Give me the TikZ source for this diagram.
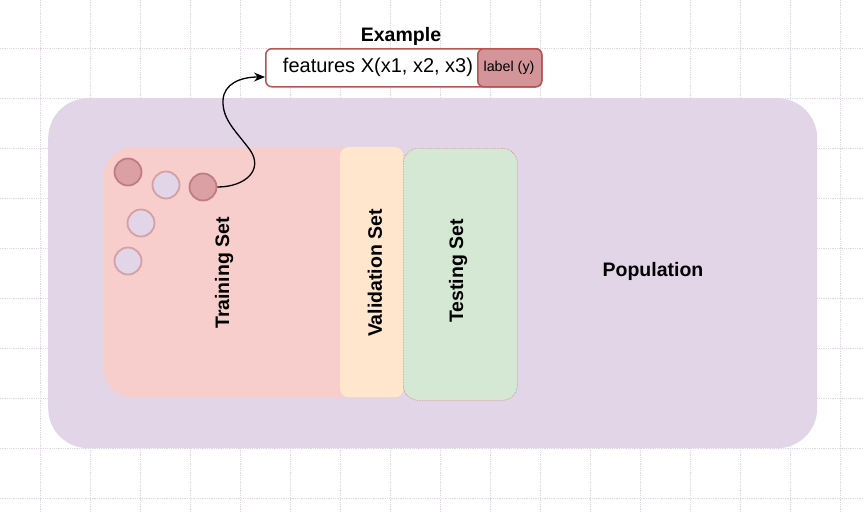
\documentclass[tikz,border=0pt]{standalone}
\usepackage{fontspec}
\setmainfont{Liberation Sans}
\usetikzlibrary{arrows.meta}
\definecolor{gridc}{HTML}{E0D6E8}
\definecolor{popc}{HTML}{E1D5E7}
\definecolor{trainc}{HTML}{F8CECC}
\definecolor{valc}{HTML}{FFE6CC}
\definecolor{testc}{HTML}{D5E8D4}
\definecolor{redb}{HTML}{B85450}
\definecolor{labc}{HTML}{D4959A}
\definecolor{darkdot}{HTML}{DBA0A4}
\definecolor{dotb}{HTML}{C07C80}
\definecolor{lightb}{HTML}{D4A0A5}
\tikzset{
  area/.style={anchor=north west, inner sep=0pt, draw=none},
  bigtext/.style={font=\fontsize{19.5}{22}\selectfont\bfseries, text=black, inner sep=0pt},
  darkpt/.style={circle, minimum size=27pt, inner sep=0pt, fill=darkdot, draw=dotb, line width=1.8pt},
  lightpt/.style={circle, minimum size=27pt, inner sep=0pt, fill=popc, draw=lightb, line width=1.8pt},
}
\begin{document}
\begin{tikzpicture}[x=1pt, y=-1pt]
\useasboundingbox (0,0) rectangle (864,512);
\fill[white] (0,0) rectangle (864,512);
% grid
\foreach \gx in {40,90,...,840} \draw[gridc, densely dotted, line width=0.8pt] (\gx,0) -- (\gx,512);
\foreach \gy in {48,98,...,498} \draw[gridc, densely dotted, line width=0.8pt] (0,\gy) -- (864,\gy);
% population
\node[area, fill=popc, rounded corners=40pt, minimum width=769pt, minimum height=350pt] (pop) at (48,98) {};
% training
\node[area, fill=trainc, rounded corners=30pt, minimum width=309pt, minimum height=250pt] (train) at (103,147) {};
% validation
\node[area, fill=valc, rounded corners=8pt, minimum width=63pt, minimum height=250pt] (val) at (340,147) {};
% testing
\node[area, fill=testc, draw=redb!70, densely dotted, line width=0.6pt, rounded corners=15pt, minimum width=114pt, minimum height=252pt] (test) at (403,148) {};
% labels
\node[bigtext, rotate=90] (trainlab) at (224,273) {Training Set};
\node[bigtext, rotate=90] (vallab) at (375,273) {Validation Set};
\node[bigtext, rotate=90] (testlab) at (458,271) {Testing Set};
\node[bigtext] (poplab) at (653,271) {Population};
% sample points
\node[darkpt] (c1) at (128,172) {};
\node[lightpt] (c2) at (166,185) {};
\node[darkpt] (c3) at (203,187) {};
\node[lightpt] (c4) at (141,223) {};
\node[lightpt] (c5) at (128,261) {};
% example box
\node[bigtext] (extitle) at (401,36) {Example};
\node[area, fill=white, draw=redb, line width=1.5pt, rounded corners=6pt, minimum width=276pt, minimum height=38pt] (ex) at (265,48) {};
\node[area, fill=labc, draw=redb, line width=1.5pt, rounded corners=6pt, minimum width=64pt, minimum height=38pt] (lab) at (477,48) {};
\node[font=\fontsize{20}{24}\selectfont, inner sep=0pt] (feat) at (378,67) {features X(x1, x2, x3)};
\node[font=\fontsize{14.3}{17}\selectfont, inner sep=0pt] (labtxt) at (509,68) {label (y)};
\coordinate (exin) at (265,77);
% connector
\draw[line width=1.3pt, -{Stealth[length=11pt, width=9pt]}] (c3.east)
  .. controls (245,187) and (264,170) .. (250,150)
  .. controls (237,132) and (222,120) .. (223,100)
  .. controls (224,84) and (240,77) .. (exin);
\end{tikzpicture}
\end{document}
